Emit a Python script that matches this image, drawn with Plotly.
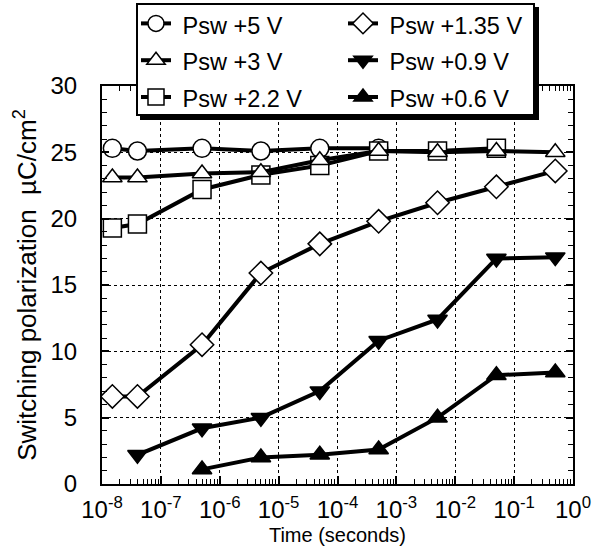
import plotly.graph_objects as go

# time axis (seconds) shared by all series
time_s = [1.5e-8, 4e-8, 5e-7, 5e-6, 5e-5, 5e-4, 5e-3, 5e-2, 5e-1]

# switching polarization (uC/cm2) for each write voltage
psw_5v = [25.3, 25.1, 25.3, 25.1, 25.3, 25.3]
psw_3v = [23.1, 23.1, 23.4, 23.5, 24.4, 25.1, 25.0, 25.1, 25.0]
psw_2v2 = [19.3, 19.6, 22.2, 23.3, 24.0, 25.1, 25.1, 25.3]
psw_1v35 = [6.6, 6.6, 10.5, 15.9, 18.1, 19.8, 21.2, 22.4, 23.6]
psw_0v9 = [2.2, 4.2, 5.0, 7.0, 10.8, 12.4, 17.0, 17.1]
psw_0v6 = [1.1, 2.0, 2.2, 2.6, 5.0, 8.2, 8.4]

x_tick_vals = [1e-8, 1e-7, 1e-6, 1e-5, 1e-4, 1e-3, 1e-2, 1e-1, 1e0]
x_tick_text = ["10<sup>-8</sup>", "10<sup>-7</sup>", "10<sup>-6</sup>", "10<sup>-5</sup>",
               "10<sup>-4</sup>", "10<sup>-3</sup>", "10<sup>-2</sup>", "10<sup>-1</sup>",
               "10<sup>0</sup>"]

FONT = "Liberation Sans, Arial, Helvetica, sans-serif"
W, H = 608, 557
L, R, T, B = 102, 35, 86, 73

series = [
    # name, times, values, symbol, fill, legend rank
    ("Psw +5 V", time_s[:6], psw_5v, "circle", "white", 1),
    ("Psw +2.2 V", time_s[:8], psw_2v2, "square", "white", 5),
    ("Psw +3 V", time_s, psw_3v, "triangle-up", "white", 3),
    ("Psw +1.35 V", time_s, psw_1v35, "diamond", "white", 2),
    ("Psw +0.9 V", time_s[1:], psw_0v9, "triangle-down", "black", 4),
    ("Psw +0.6 V", time_s[2:], psw_0v6, "triangle-up", "black", 6),
]
sizes = {"circle": 18, "square": 18, "triangle-up": 17, "triangle-down": 17, "diamond": 18}

fig = go.Figure()
for name, xs, ys, sym, fill, rank in series:
    fig.add_trace(go.Scatter(
        x=xs, y=ys, mode="lines+markers", legendrank=rank,
        name="<span style='font-size:23.5px'>\u00a0%s</span>" % name,
        line=dict(color="black", width=4),
        marker=dict(symbol=sym, size=sizes[sym], color=fill,
                    line=dict(color="black", width=1.5)),
    ))

minor_x = [k * 10.0 ** e for e in range(-8, 0) for k in range(2, 10)]

fig.update_xaxes(
    type="log", range=[-8, 0],
    tickmode="array", tickvals=x_tick_vals, ticktext=x_tick_text,
    ticks="inside", ticklen=8, tickwidth=1.5, tickcolor="black",
    minor=dict(tickmode="array", tickvals=minor_x, ticks="inside", ticklen=5,
               tickwidth=1, tickcolor="black", showgrid=False),
    showline=True, linecolor="black", linewidth=2, mirror="allticks",
    showgrid=True, gridcolor="black", gridwidth=1.2, griddash="dot",
    tickfont=dict(size=24, color="black"), ticklabelstandoff=3,
    title=dict(text="Time (seconds)", font=dict(size=20, color="black"), standoff=6),
    zeroline=False,
)
fig.update_yaxes(
    range=[0, 30], dtick=5,
    ticks="inside", ticklen=7, tickwidth=1.5, tickcolor="black",
    minor=dict(dtick=1, ticks="inside", ticklen=5, tickwidth=1, tickcolor="black",
               showgrid=False),
    showline=True, linecolor="black", linewidth=2, mirror="allticks",
    showgrid=True, gridcolor="black", gridwidth=1.2, griddash="dot",
    tickfont=dict(size=24, color="black"), ticklabelstandoff=18,
    title=dict(text="Switching polarization  \u00b5C/cm<sup>2</sup>",
               font=dict(size=26, color="black"), standoff=6),
    zeroline=False,
)

pw, ph = W - L - R, H - T - B


def px_x(v):
    return (v - L) / pw


def px_y(v):
    return (H - B - v) / ph


# legend frame with its drop shadow
fig.add_shape(type="rect", xref="paper", yref="paper", layer="above",
              x0=px_x(140), x1=px_x(539), y0=px_y(120), y1=px_y(7),
              fillcolor="black", line=dict(width=0))
fig.add_shape(type="rect", xref="paper", yref="paper", layer="above",
              x0=px_x(137), x1=px_x(534), y0=px_y(115), y1=px_y(4),
              fillcolor="white", line=dict(color="black", width=2))

fig.update_layout(
    width=W, height=H,
    margin=dict(l=L, r=R, t=T, b=B, autoexpand=False),
    paper_bgcolor="white", plot_bgcolor="white",
    font=dict(family=FONT, color="black"),
    showlegend=True,
    legend=dict(
        orientation="h", xref="container", yref="container",
        x=136 / W, y=1, xanchor="left", yanchor="top",
        entrywidth=162, entrywidthmode="pixels",
        bgcolor="rgba(0,0,0,0)", borderwidth=0,
        font=dict(size=26, color="black"), traceorder="normal",
    ),
)

fig.write_html("out.html", config={"displayModeBar": False},
               post_script="document.body.style.margin = '0';")
